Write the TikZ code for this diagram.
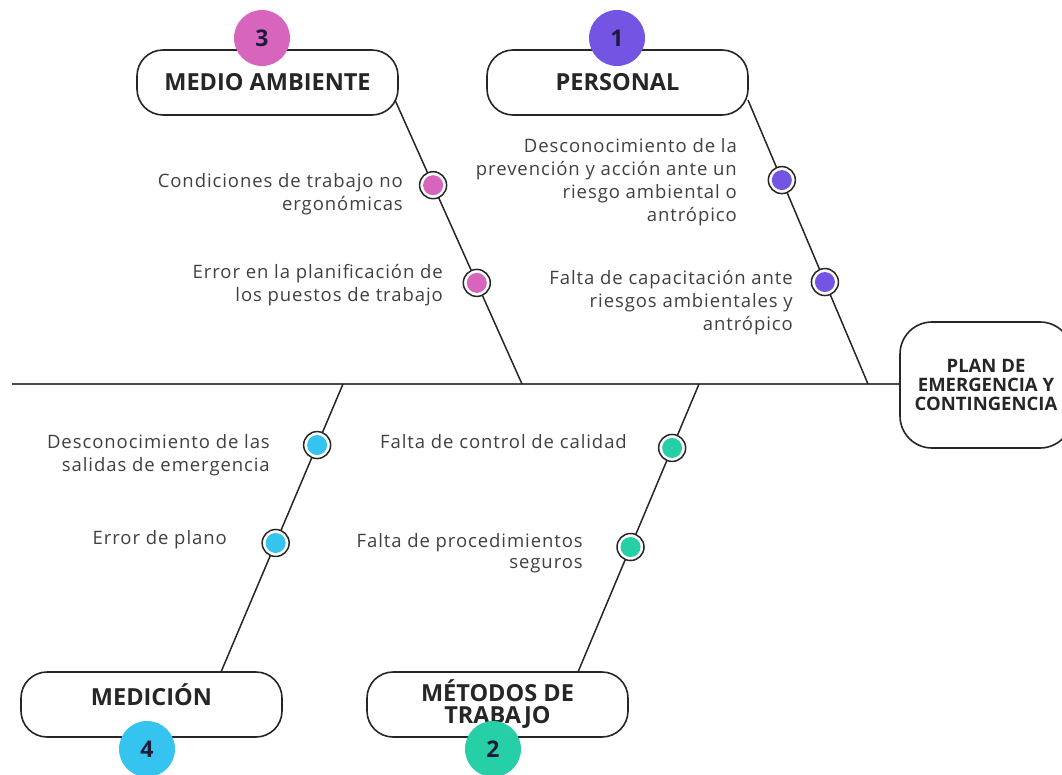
\documentclass[tikz,border=0pt]{standalone}
\usepackage{fontspec}
\setmainfont{Open Sans}
\newfontfamily\causefont[LetterSpace=5]{Open Sans}
\usepackage{tikz}
\usetikzlibrary{calc}
\definecolor{perscol}{HTML}{7455E3}
\definecolor{medcol}{HTML}{D765BE}
\definecolor{mdccol}{HTML}{35C3F0}
\definecolor{metcol}{HTML}{26CFA6}
\definecolor{numink}{HTML}{1E1B3A}
\tikzset{
  titlebox/.style={draw=black!85, line width=1.6pt, rounded corners=26pt, fill=white, minimum width=261pt, minimum height=65pt, align=center, text=black!85, font=\fontsize{23.5}{22}\selectfont\bfseries},
  numdot/.style={circle, fill=#1, minimum size=56pt, inner sep=0pt, text=numink, font=\fontsize{23}{23}\selectfont\bfseries},
  causedot/.style={circle, draw=black!85, line width=1.5pt, fill=white, minimum size=27pt, inner sep=0pt, path picture={\fill[#1] (path picture bounding box.center) circle (10pt);}},
  cause/.style={anchor=east, align=right, inner sep=0pt, text=black!75, font=\causefont\fontsize{18.5}{23}\selectfont},
  bone/.style={draw=black!85, line width=1.5pt}
}
\begin{document}
\begin{tikzpicture}[x=1pt,y=-1pt]
		%%%%% START %%%%%
		\useasboundingbox (0,0) rectangle (1062,774);
		\clip (0,0) rectangle (1062,774);
		
		\node[titlebox, rounded corners=32pt, minimum width=172pt, minimum height=126pt, font=\fontsize{18.5}{19}\selectfont\bfseries] (plan) at (986,385) {PLAN DE\\EMERGENCIA Y\\CONTINGENCIA};
		\coordinate (tail) at (12,384);
		\draw[line width=1.5pt, color=black!70] (tail) -- (plan.west |- tail);
		
		\coordinate (jPer) at (868,384);
		\coordinate (ePer) at (748,100);
		\coordinate (jMed) at (522,384);
		\coordinate (eMed) at (395,100);
		\coordinate (jMdc) at (343,384);
		\coordinate (eMdc) at (221,672);
		\coordinate (jMet) at (699,384);
		\coordinate (eMet) at (578,672);
		
		\draw[bone] (jPer) -- (ePer) node[causedot=perscol, pos=0.718] (per1) {} node[causedot=perscol, pos=0.359] (per2) {};
		\draw[bone] (jMed) -- (eMed) node[causedot=medcol, pos=0.70] (med1) {} node[causedot=medcol, pos=0.356] (med2) {};
		\draw[bone] (jMdc) -- (eMdc) node[causedot=mdccol, pos=0.212] (mdc1) {} node[causedot=mdccol, pos=0.552] (mdc2) {};
		\draw[bone] (jMet) -- (eMet) node[causedot=metcol, pos=0.222] (met1) {} node[causedot=metcol, pos=0.566] (met2) {};
		
		\node[titlebox] (personal) at (617.5,82.5) {PERSONAL};
		\node[titlebox] (medio) at (267.5,82.5) {MEDIO AMBIENTE};
		\node[titlebox] (medicion) at (151.5,704.5) {\raisebox{19pt}{MEDICIÓN}};
		\node[titlebox] (metodos) at (497.5,704.5) {MÉTODOS DE\\TRABAJO};
		
		\node[numdot=perscol] (n1) at (617,38) {1};
		\node[numdot=medcol] (n3) at (262,38) {3};
		\node[numdot=mdccol] (n4) at (147,749) {4};
		\node[numdot=metcol] (n2) at (493,749) {2};
		
		\node[cause] (tPer1) at (737,182) {Desconocimiento de la\\prevención y acción ante un\\riesgo ambiental o\\antrópico};
		\node[cause] (tPer2) at (793,303) {Falta de capacitación ante\\riesgos ambientales y\\antrópico};
		\node[cause] (tMed1) at (403,194) {Condiciones de trabajo no\\ergonómicas};
		\node[cause] (tMed2) at (443,285) {Error en la planificación de\\los puestos de trabajo};
		\node[cause] (tMdc1) at (270,455) {Desconocimiento de las\\salidas de emergencia};
		\node[cause] (tMdc2) at (227,540) {Error de plano};
		\node[cause] (tMet1) at (627,442) {Falta de control de calidad};
		\node[cause, font=\causefont\fontsize{18.5}{21}\selectfont] (tMet2) at (583,553) {Falta de procedimientos\\seguros};
		
		%%%%% END %%%%%
\end{tikzpicture}
\end{document}
